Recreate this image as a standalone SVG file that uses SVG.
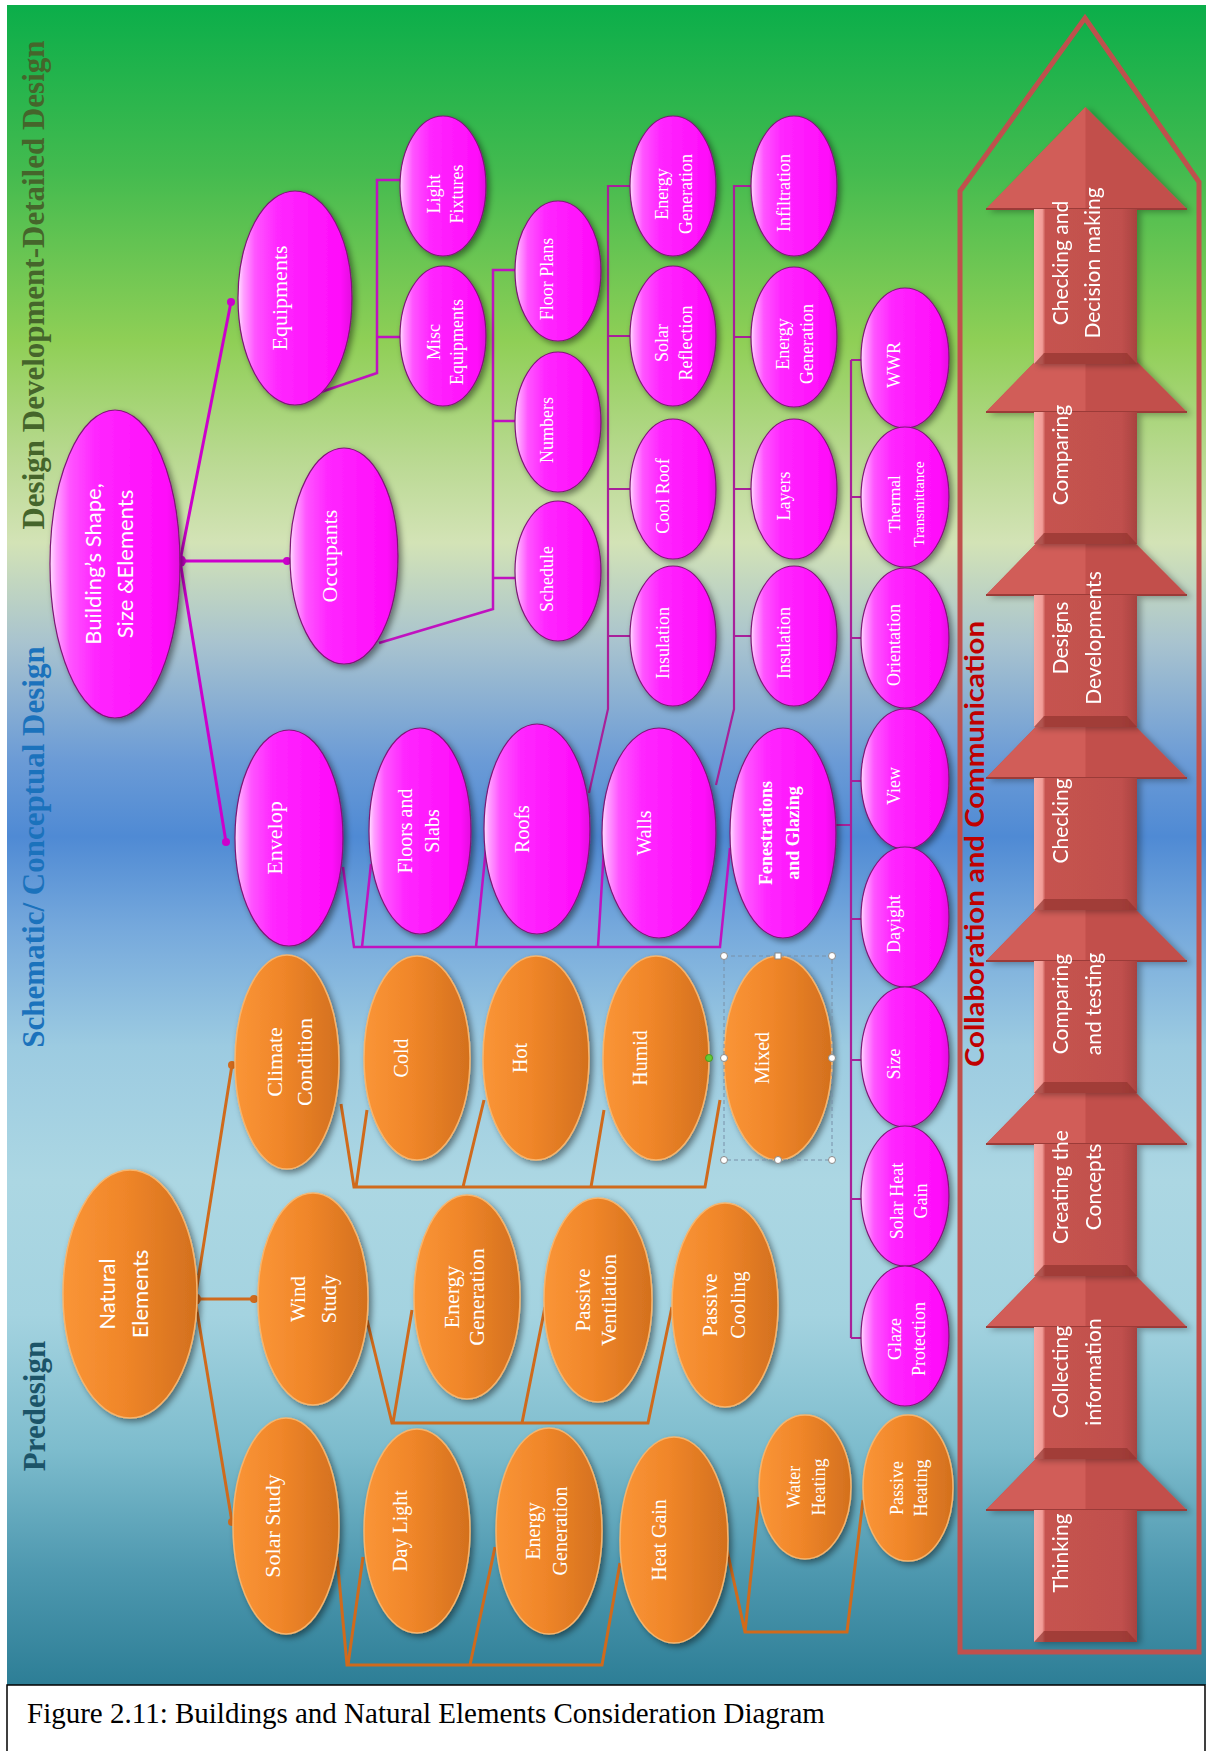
<svg xmlns="http://www.w3.org/2000/svg" width="1208" height="1751" viewBox="0 0 1208 1751">
<defs>
<linearGradient id="gBg" gradientUnits="userSpaceOnUse" x1="0" y1="5" x2="0" y2="1685">
<stop offset="0" stop-color="#0bae4a"/>
<stop offset="0.1" stop-color="#44bb4f"/>
<stop offset="0.2" stop-color="#8fcf56"/>
<stop offset="0.27" stop-color="#b9d991"/>
<stop offset="0.32" stop-color="#d3e3b6"/>
<stop offset="0.38" stop-color="#a8c3cf"/>
<stop offset="0.45" stop-color="#6b9bd6"/>
<stop offset="0.495" stop-color="#4f8ad4"/>
<stop offset="0.55" stop-color="#76a9dc"/>
<stop offset="0.62" stop-color="#9ccbe1"/>
<stop offset="0.7" stop-color="#acd7e3"/>
<stop offset="0.78" stop-color="#a4d3e0"/>
<stop offset="0.86" stop-color="#7dbccd"/>
<stop offset="0.93" stop-color="#4f99b0"/>
<stop offset="1" stop-color="#2d7e96"/>
</linearGradient>
<linearGradient id="gPk" x1="0" y1="0" x2="1" y2="0">
<stop offset="0" stop-color="#ffe0ff"/>
<stop offset="0.05" stop-color="#ffa0ff"/>
<stop offset="0.15" stop-color="#ff55ff"/>
<stop offset="0.35" stop-color="#ff26ff"/>
<stop offset="0.9" stop-color="#ff0cfa"/>
<stop offset="1" stop-color="#e208de"/>
</linearGradient>
<linearGradient id="gOr" x1="0" y1="0" x2="1" y2="0">
<stop offset="0" stop-color="#fa9537"/>
<stop offset="0.45" stop-color="#f08629"/>
<stop offset="1" stop-color="#d3701e"/>
</linearGradient>
<linearGradient id="gAr" gradientUnits="userSpaceOnUse" x1="1034" y1="0" x2="1137" y2="0">
<stop offset="0" stop-color="#f7aaa5"/>
<stop offset="0.08" stop-color="#f29d98"/>
<stop offset="0.11" stop-color="#c6534f"/>
<stop offset="0.85" stop-color="#c0504d"/>
<stop offset="1" stop-color="#a8423f"/>
</linearGradient>
<filter id="sh" x="-20%" y="-20%" width="150%" height="150%">
<feDropShadow dx="3" dy="3" stdDeviation="3" flood-color="#000" flood-opacity="0.45"/>
</filter>
<filter id="sha" x="-20%" y="-20%" width="150%" height="150%">
<feDropShadow dx="4" dy="2" stdDeviation="3" flood-color="#000" flood-opacity="0.3"/>
</filter>
<style>
.pk{fill:url(#gPk);stroke:#7e1676;stroke-width:1.2;filter:url(#sh)}
.or{fill:url(#gOr);stroke:#f7b46c;stroke-width:1.5;filter:url(#sh)}
.tx{fill:#fff;font-family:"Liberation Serif","Times New Roman",serif;text-anchor:middle}
.sx{fill:#fff;font-family:Lato,"Liberation Sans",sans-serif;text-anchor:middle}
.hdr{font-family:"Liberation Serif","Times New Roman",serif;font-weight:bold;font-size:31px;text-anchor:middle}
.cm{stroke:#cc00cc;stroke-width:3;fill:none}
.cb{stroke:#c012c0;stroke-width:2.5;fill:none}
.cc{stroke:#a8209a;stroke-width:2.2;fill:none}
.co{stroke:#d06a1c;stroke-width:3;fill:none}
.dm{fill:#cc00cc}
.do{fill:#d06a1c}
.arr{filter:url(#sha)}
.ahd{fill:#c24f4b}
.ahl{fill:#d15d58}
.awl{stroke:#9b3a37;stroke-width:2}
.abd{fill:url(#gAr)}
.abv{fill:#93332f;opacity:0.7}
.at{fill:#fff;font-family:Lato,"Liberation Sans",sans-serif;font-size:21px;text-anchor:middle}
.hd{fill:#fff;stroke:#8a8a8a;stroke-width:1}
</style>
</defs>
<rect x="0" y="0" width="1208" height="1751" fill="#fff"/>
<rect id="background" x="7" y="5" width="1199" height="1680" fill="url(#gBg)"/>

<g id="phase-labels">
<text class="hdr" fill="#45652b" transform="translate(44,285) rotate(-90)">Design Development-Detailed Design</text>
<text class="hdr" fill="#1b72bc" transform="translate(44,847) rotate(-90)">Schematic/ Conceptual Design</text>
<text class="hdr" fill="#1c5468" transform="translate(45,1406) rotate(-90)">Predesign</text>
</g>

<g id="connectors">
<path class="cm" d="M180,561 L231,302 M180,561 L287,561 M180,561 L226,842"/>
<circle class="dm" cx="180" cy="561" r="6"/>
<circle class="dm" cx="231" cy="302" r="4"/>
<circle class="dm" cx="287" cy="561" r="4"/>
<circle class="dm" cx="226" cy="842" r="4"/>
<path class="cb" d="M321,392 L377,373 L377,180 L410,180 M377,337 L410,337"/>
<path class="cb" d="M379,643 L493,609 L493,270 L522,270 M493,421 L522,421 M493,578 L522,578"/>
<path class="cb" d="M343,867 L354,947 L720,947 L730,848 M371,864 L362,947 M486,848 L476,947 M604,848 L598,947"/>
<path class="cc" d="M589,793 L608,709 L608,186 L638,186 M608,336 L638,336 M608,489 L638,489 M608,636 L638,636"/>
<path class="cc" d="M716,785 L734,709 L734,186 L760,186 M734,337 L760,337 M734,489 L760,489 M734,636 L760,636"/>
<path class="cc" d="M834,825 L851,825 M851,360 L851,1338 M851,360 L870,360 M851,497 L870,497 M851,638 L870,638 M851,781 L870,781 M851,919 L870,919 M851,1060 L870,1060 M851,1199 L870,1199 M851,1338 L870,1338"/>
<path class="co" d="M195,1299 L232,1065 M195,1299 L254,1299 M195,1299 L232,1522"/>
<circle class="do" cx="195" cy="1299" r="6"/>
<circle class="do" cx="232" cy="1065" r="4"/>
<circle class="do" cx="254" cy="1299" r="4"/>
<circle class="do" cx="232" cy="1522" r="4"/>
<path class="co" d="M341,1104 L354,1187 L705,1187 L720,1100 M367,1110 L356,1187 M484,1100 L463,1187 M604,1110 L591,1187"/>
<path class="co" d="M367,1320 L392,1423 L648,1423 L672,1307 M412,1310 L393,1423 M545,1307 L522,1423"/>
<path class="co" d="M337,1557 L347,1665 L602,1665 L620,1563 M363,1557 L348,1665 M495,1547 L470,1665"/>
<path class="co" d="M727,1550 L745,1632 L847,1632 L863,1500 M745,1632 L759,1497"/>
</g>

<g id="n-building" transform="translate(115,564)"><ellipse class="pk" rx="65" ry="154"/><text class="sx" font-size="22" transform="rotate(-90)"><tspan x="0" y="-14.5">Building’s Shape,</tspan><tspan x="0" y="17.5">Size &amp;Elements</tspan></text></g>
<g id="n-equipments" transform="translate(295,298)"><ellipse class="pk" rx="57" ry="107"/><text class="tx" font-size="22" transform="rotate(-90)" x="0" y="-8">Equipments</text></g>
<g id="n-occupants" transform="translate(344,556)"><ellipse class="pk" rx="54" ry="108"/><text class="tx" font-size="22" transform="rotate(-90)" x="0" y="-7">Occupants</text></g>
<g id="n-envelop" transform="translate(289,838)"><ellipse class="pk" rx="54" ry="108"/><text class="tx" font-size="22" transform="rotate(-90)" x="0" y="-7">Envelop</text></g>
<g id="n-light-fixtures" transform="translate(443,186)"><ellipse class="pk" rx="43" ry="70"/><text class="tx" font-size="18" transform="rotate(-90)"><tspan x="-8" y="-3.5">Light</tspan><tspan x="-8" y="19.5">Fixtures</tspan></text></g>
<g id="n-misc-equipments" transform="translate(443,336)"><ellipse class="pk" rx="43" ry="70"/><text class="tx" font-size="18" transform="rotate(-90)"><tspan x="-6" y="-3.5">Misc</tspan><tspan x="-6" y="19.5">Equipments</tspan></text></g>
<g id="n-floor-plans" transform="translate(558,271)"><ellipse class="pk" rx="43" ry="70"/><text class="tx" font-size="18" transform="rotate(-90)" x="-8" y="-5">Floor Plans</text></g>
<g id="n-numbers" transform="translate(558,422)"><ellipse class="pk" rx="43" ry="70"/><text class="tx" font-size="18" transform="rotate(-90)" x="-8" y="-5">Numbers</text></g>
<g id="n-schedule" transform="translate(558,571)"><ellipse class="pk" rx="43" ry="70"/><text class="tx" font-size="18" transform="rotate(-90)" x="-8" y="-5">Schedule</text></g>
<g id="n-floors-slabs" transform="translate(420,831)"><ellipse class="pk" rx="51" ry="103"/><text class="tx" font-size="20" transform="rotate(-90)"><tspan x="0" y="-8">Floors and</tspan><tspan x="0" y="19">Slabs</tspan></text></g>
<g id="n-roofs" transform="translate(537,829)"><ellipse class="pk" rx="53" ry="105"/><text class="tx" font-size="20" transform="rotate(-90)" x="0" y="-8">Roofs</text></g>
<g id="n-walls" transform="translate(659,833)"><ellipse class="pk" rx="57" ry="105"/><text class="tx" font-size="20" transform="rotate(-90)" x="0" y="-8">Walls</text></g>
<g id="n-fenestrations" transform="translate(783,833)"><ellipse class="pk" rx="53" ry="105"/><text class="tx" font-size="18" font-weight="bold" transform="rotate(-90)"><tspan x="0" y="-11.5">Fenestrations</tspan><tspan x="0" y="16">and Glazing</tspan></text></g>
<g id="n-roof-energy" transform="translate(673,186)"><ellipse class="pk" rx="43" ry="70"/><text class="tx" font-size="18" transform="rotate(-90)"><tspan x="-8" y="-5">Energy</tspan><tspan x="-8" y="19">Generation</tspan></text></g>
<g id="n-solar-reflection" transform="translate(673,336)"><ellipse class="pk" rx="43" ry="70"/><text class="tx" font-size="18" transform="rotate(-90)"><tspan x="-7" y="-5">Solar</tspan><tspan x="-7" y="19">Reflection</tspan></text></g>
<g id="n-cool-roof" transform="translate(673,489)"><ellipse class="pk" rx="43" ry="70"/><text class="tx" font-size="18" transform="rotate(-90)" x="-7" y="-4">Cool Roof</text></g>
<g id="n-roof-insulation" transform="translate(673,636)"><ellipse class="pk" rx="43" ry="70"/><text class="tx" font-size="18" transform="rotate(-90)" x="-7" y="-4">Insulation</text></g>
<g id="n-infiltration" transform="translate(794,186)"><ellipse class="pk" rx="43" ry="70"/><text class="tx" font-size="18" transform="rotate(-90)" x="-7" y="-4">Infiltration</text></g>
<g id="n-wall-energy" transform="translate(794,337)"><ellipse class="pk" rx="43" ry="70"/><text class="tx" font-size="18" transform="rotate(-90)"><tspan x="-7" y="-5">Energy</tspan><tspan x="-7" y="19">Generation</tspan></text></g>
<g id="n-layers" transform="translate(794,489)"><ellipse class="pk" rx="43" ry="70"/><text class="tx" font-size="18" transform="rotate(-90)" x="-7" y="-4">Layers</text></g>
<g id="n-wall-insulation" transform="translate(794,636)"><ellipse class="pk" rx="43" ry="70"/><text class="tx" font-size="18" transform="rotate(-90)" x="-7" y="-4">Insulation</text></g>
<g id="n-wwr" transform="translate(905,358)"><ellipse class="pk" rx="44" ry="70"/><text class="tx" font-size="18" transform="rotate(-90)" x="-7" y="-5">WWR</text></g>
<g id="n-thermal" transform="translate(905,497)"><ellipse class="pk" rx="44" ry="70"/><text class="tx" transform="rotate(-90)"><tspan x="-7" y="-5" font-size="17">Thermal</tspan><tspan x="-7" y="19" font-size="15">Transmittance</tspan></text></g>
<g id="n-orientation" transform="translate(905,638)"><ellipse class="pk" rx="44" ry="70"/><text class="tx" font-size="18" transform="rotate(-90)" x="-7" y="-5">Orientation</text></g>
<g id="n-view" transform="translate(905,779)"><ellipse class="pk" rx="44" ry="70"/><text class="tx" font-size="18" transform="rotate(-90)" x="-7" y="-5">View</text></g>
<g id="n-dayight" transform="translate(905,917)"><ellipse class="pk" rx="44" ry="70"/><text class="tx" font-size="18" transform="rotate(-90)" x="-7" y="-5">Dayight</text></g>
<g id="n-size" transform="translate(905,1057)"><ellipse class="pk" rx="44" ry="70"/><text class="tx" font-size="18" transform="rotate(-90)" x="-7" y="-5">Size</text></g>
<g id="n-solar-heat-gain" transform="translate(905,1196)"><ellipse class="pk" rx="44" ry="70"/><text class="tx" font-size="18" transform="rotate(-90)"><tspan x="-5" y="-2">Solar Heat</tspan><tspan x="-5" y="22">Gain</tspan></text></g>
<g id="n-glaze-protection" transform="translate(905,1336)"><ellipse class="pk" rx="44" ry="70"/><text class="tx" font-size="18" transform="rotate(-90)"><tspan x="-3" y="-4">Glaze</tspan><tspan x="-3" y="20">Protection</tspan></text></g>

<g id="n-natural" transform="translate(130,1294)"><ellipse class="or" rx="67" ry="124"/><text class="sx" font-size="22" transform="rotate(-90)"><tspan x="0" y="-15">Natural</tspan><tspan x="0" y="17.5">Elements</tspan></text></g>
<g id="n-climate" transform="translate(287,1062)"><ellipse class="or" rx="52" ry="107"/><text class="tx" font-size="22" transform="rotate(-90)"><tspan x="0" y="-5">Climate</tspan><tspan x="0" y="25">Condition</tspan></text></g>
<g id="n-cold" transform="translate(417,1058)"><ellipse class="or" rx="53" ry="102"/><text class="tx" font-size="20" transform="rotate(-90)" x="0" y="-9.5">Cold</text></g>
<g id="n-hot" transform="translate(536,1058)"><ellipse class="or" rx="53" ry="102"/><text class="tx" font-size="20" transform="rotate(-90)" x="0" y="-9.5">Hot</text></g>
<g id="n-humid" transform="translate(656,1058)"><ellipse class="or" rx="53" ry="102"/><text class="tx" font-size="20" transform="rotate(-90)" x="0" y="-9.5">Humid</text></g>
<g id="n-mixed" transform="translate(778,1058)"><ellipse class="or" rx="54" ry="102"/><text class="tx" font-size="20" transform="rotate(-90)" x="0" y="-9.5">Mixed</text></g>
<g id="n-wind" transform="translate(313,1299)"><ellipse class="or" rx="55" ry="106"/><text class="tx" font-size="21" transform="rotate(-90)"><tspan x="0" y="-8.5">Wind</tspan><tspan x="0" y="22.5">Study</tspan></text></g>
<g id="n-wind-energy" transform="translate(467,1297)"><ellipse class="or" rx="53" ry="102"/><text class="tx" font-size="22" transform="rotate(-90)"><tspan x="0" y="-8">Energy</tspan><tspan x="0" y="17">Generation</tspan></text></g>
<g id="n-passive-ventilation" transform="translate(598,1300)"><ellipse class="or" rx="54" ry="102"/><text class="tx" font-size="21" transform="rotate(-90)"><tspan x="0" y="-8.5">Passive</tspan><tspan x="0" y="17.5">Ventilation</tspan></text></g>
<g id="n-passive-cooling" transform="translate(725,1305)"><ellipse class="or" rx="53" ry="102"/><text class="tx" font-size="21" transform="rotate(-90)"><tspan x="0" y="-8.5">Passive</tspan><tspan x="0" y="19.5">Cooling</tspan></text></g>
<g id="n-solar" transform="translate(286,1526)"><ellipse class="or" rx="53" ry="108"/><text class="tx" font-size="22" transform="rotate(-90)" x="0" y="-6">Solar Study</text></g>
<g id="n-daylight" transform="translate(417,1531)"><ellipse class="or" rx="53" ry="102"/><text class="tx" font-size="20" transform="rotate(-90)" x="0" y="-10">Day Light</text></g>
<g id="n-solar-energy" transform="translate(549,1531)"><ellipse class="or" rx="53" ry="103"/><text class="tx" font-size="20" transform="rotate(-90)"><tspan x="0" y="-9">Energy</tspan><tspan x="0" y="17.5">Generation</tspan></text></g>
<g id="n-heat-gain" transform="translate(674,1540)"><ellipse class="or" rx="54" ry="103"/><text class="tx" font-size="20" transform="rotate(-90)" x="0" y="-8">Heat Gain</text></g>
<g id="n-water-heating" transform="translate(805,1487)"><ellipse class="or" rx="46" ry="72"/><text class="tx" font-size="18" transform="rotate(-90)"><tspan x="0" y="-5">Water</tspan><tspan x="0" y="19.5">Heating</tspan></text></g>
<g id="n-passive-heating" transform="translate(908,1488)"><ellipse class="or" rx="45" ry="73"/><text class="tx" font-size="18" transform="rotate(-90)"><tspan x="0" y="-5.5">Passive</tspan><tspan x="0" y="18.5">Heating</tspan></text></g>

<g id="mixed-selection">
<rect x="724" y="956" width="108" height="204" fill="none" stroke="#7890a8" stroke-width="1" stroke-dasharray="4 3"/>
<circle class="hd" cx="724" cy="956" r="3.5"/><circle class="hd" cx="832" cy="956" r="3.5"/>
<rect class="hd" x="775" y="953" width="6" height="6"/>
<circle class="hd" cx="724" cy="1058" r="3.5"/><circle class="hd" cx="832" cy="1058" r="3.5"/>
<circle class="hd" cx="724" cy="1160" r="3.5"/><circle class="hd" cx="778" cy="1160" r="3.5"/><circle class="hd" cx="832" cy="1160" r="3.5"/>
<circle cx="709" cy="1058" r="3.5" fill="#66cc33" stroke="#4a9a22" stroke-width="1"/>
</g>

<g id="process">
<path id="frame" d="M960,1652 L960,191 L1085,18 L1199,182 L1199,1652 Z" fill="none" stroke="#c0504d" stroke-width="5" stroke-linejoin="miter"/>
<text fill="#c00000" font-family="Lato,'Liberation Sans',sans-serif" font-weight="bold" font-size="27" text-anchor="middle" textLength="446" lengthAdjust="spacingAndGlyphs" transform="translate(984,844) rotate(-90)">Collaboration and Communication</text>

<g id="arrow-thinking" class="arr">
<path class="ahd" d="M986,1510 L1085.5,1408 L1187,1510 Z"/><path class="ahl" d="M986,1510 L1085.5,1408 L1085.5,1510 Z"/><path class="awl" d="M986,1510 H1187"/>
<rect class="abd" x="1034" y="1510" width="103" height="132"/><path class="abv" d="M1034,1642 H1137 L1127,1631 H1044 Z"/>
<text class="at" transform="translate(1068,1553) rotate(-90)">Thinking</text>
</g>
<g id="arrow-collecting" class="arr">
<path class="ahd" d="M986,1327 L1085.5,1225 L1187,1327 Z"/><path class="ahl" d="M986,1327 L1085.5,1225 L1085.5,1327 Z"/><path class="awl" d="M986,1327 H1187"/>
<rect class="abd" x="1034" y="1327" width="103" height="132"/><path class="abv" d="M1034,1459 H1137 L1127,1448 H1044 Z"/>
<text class="at" transform="translate(1068,1372) rotate(-90)"><tspan x="0" y="0">Collecting</tspan><tspan x="0" y="33">information</tspan></text>
</g>
<g id="arrow-creating" class="arr">
<path class="ahd" d="M986,1144 L1085.5,1042 L1187,1144 Z"/><path class="ahl" d="M986,1144 L1085.5,1042 L1085.5,1144 Z"/><path class="awl" d="M986,1144 H1187"/>
<rect class="abd" x="1034" y="1144" width="103" height="132"/><path class="abv" d="M1034,1276 H1137 L1127,1265 H1044 Z"/>
<text class="at" transform="translate(1068,1187) rotate(-90)"><tspan x="0" y="0">Creating the</tspan><tspan x="0" y="33">Concepts</tspan></text>
</g>
<g id="arrow-comparing-testing" class="arr">
<path class="ahd" d="M986,961 L1085.5,859 L1187,961 Z"/><path class="ahl" d="M986,961 L1085.5,859 L1085.5,961 Z"/><path class="awl" d="M986,961 H1187"/>
<rect class="abd" x="1034" y="961" width="103" height="132"/><path class="abv" d="M1034,1093 H1137 L1127,1082 H1044 Z"/>
<text class="at" transform="translate(1068,1004) rotate(-90)"><tspan x="0" y="0">Comparing</tspan><tspan x="0" y="33">and testing</tspan></text>
</g>
<g id="arrow-checking" class="arr">
<path class="ahd" d="M986,778 L1085.5,676 L1187,778 Z"/><path class="ahl" d="M986,778 L1085.5,676 L1085.5,778 Z"/><path class="awl" d="M986,778 H1187"/>
<rect class="abd" x="1034" y="778" width="103" height="132"/><path class="abv" d="M1034,910 H1137 L1127,899 H1044 Z"/>
<text class="at" transform="translate(1068,821) rotate(-90)">Checking</text>
</g>
<g id="arrow-designs" class="arr">
<path class="ahd" d="M986,595 L1085.5,493 L1187,595 Z"/><path class="ahl" d="M986,595 L1085.5,493 L1085.5,595 Z"/><path class="awl" d="M986,595 H1187"/>
<rect class="abd" x="1034" y="595" width="103" height="132"/><path class="abv" d="M1034,727 H1137 L1127,716 H1044 Z"/>
<text class="at" transform="translate(1068,638) rotate(-90)"><tspan x="0" y="0">Designs</tspan><tspan x="0" y="33">Developments</tspan></text>
</g>
<g id="arrow-comparing" class="arr">
<path class="ahd" d="M986,412 L1085.5,310 L1187,412 Z"/><path class="ahl" d="M986,412 L1085.5,310 L1085.5,412 Z"/><path class="awl" d="M986,412 H1187"/>
<rect class="abd" x="1034" y="412" width="103" height="132"/><path class="abv" d="M1034,544 H1137 L1127,533 H1044 Z"/>
<text class="at" transform="translate(1068,455) rotate(-90)">Comparing</text>
</g>
<g id="arrow-decision" class="arr">
<path class="ahd" d="M986,209 L1085.5,107 L1187,209 Z"/><path class="ahl" d="M986,209 L1085.5,107 L1085.5,209 Z"/><path class="awl" d="M986,209 H1187"/>
<rect class="abd" x="1034" y="209" width="103" height="155"/><path class="abv" d="M1034,364 H1137 L1127,353 H1044 Z"/>
<text class="at" transform="translate(1068,263) rotate(-90)"><tspan x="0" y="0">Checking and</tspan><tspan x="0" y="32">Decision making</tspan></text>
</g>
</g>

<g id="caption">
<rect x="7" y="1685" width="1198" height="70" fill="#fff" stroke="#000" stroke-width="1.5"/>
<text x="27" y="1723" font-family="'Liberation Serif','Times New Roman',serif" font-size="29" fill="#000">Figure 2.11: Buildings and Natural Elements Consideration Diagram</text>
</g>
</svg>
